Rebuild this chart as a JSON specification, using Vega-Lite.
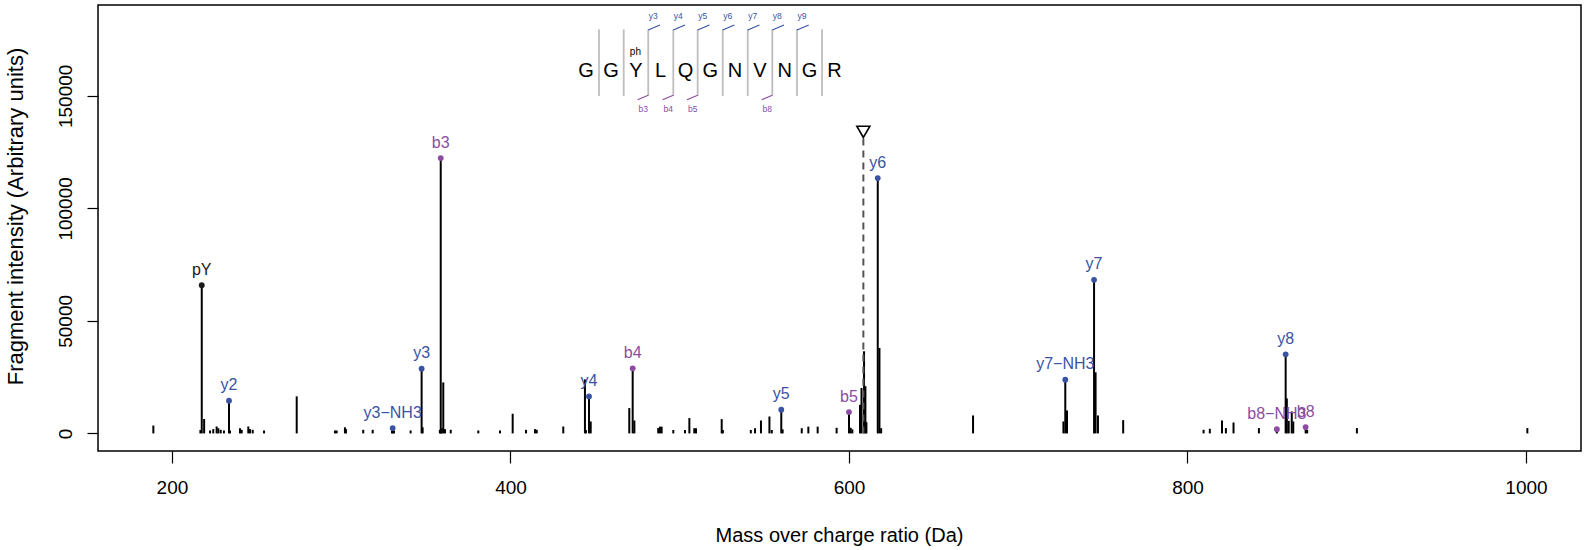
{
  "$schema": "https://vega.github.io/schema/vega-lite/v6.json",
  "width": 1483,
  "height": 446,
  "autosize": {"type": "none"},
  "padding": {"left": 98, "top": 5, "right": 15, "bottom": 99},
  "background": "white",
  "config": {
    "font": "Liberation Sans",
    "view": {"stroke": "black", "strokeWidth": 1.5},
    "axis": {
      "grid": false, "domain": false, "tickColor": "black", "tickWidth": 1.2,
      "labelColor": "black", "titleColor": "black", "labelFontSize": 19, "titleFontSize": 20,
      "titleFontWeight": "normal", "labelFont": "Liberation Sans", "titleFont": "Liberation Sans"
    }
  },
  "datasets": {
    "peaks": [
      {"mz": 189.0, "int": 3500, "ion": "", "kind": "n"},
      {"mz": 216.8, "int": 1500, "ion": "", "kind": "n"},
      {"mz": 217.6, "int": 65850, "ion": "pY", "kind": "p"},
      {"mz": 219.0, "int": 6400, "ion": "", "kind": "n"},
      {"mz": 222.5, "int": 1300, "ion": "", "kind": "n"},
      {"mz": 224.4, "int": 1900, "ion": "", "kind": "n"},
      {"mz": 226.4, "int": 3070, "ion": "", "kind": "n"},
      {"mz": 227.4, "int": 2300, "ion": "", "kind": "n"},
      {"mz": 228.8, "int": 1600, "ion": "", "kind": "n"},
      {"mz": 230.7, "int": 1300, "ion": "", "kind": "n"},
      {"mz": 233.7, "int": 14500, "ion": "y2", "kind": "y"},
      {"mz": 234.3, "int": 1300, "ion": "", "kind": "n"},
      {"mz": 240.2, "int": 2300, "ion": "", "kind": "n"},
      {"mz": 241.2, "int": 1600, "ion": "", "kind": "n"},
      {"mz": 245.1, "int": 3070, "ion": "", "kind": "n"},
      {"mz": 246.1, "int": 1900, "ion": "", "kind": "n"},
      {"mz": 247.7, "int": 1600, "ion": "", "kind": "n"},
      {"mz": 254.4, "int": 1300, "ion": "", "kind": "n"},
      {"mz": 273.7, "int": 16450, "ion": "", "kind": "n"},
      {"mz": 296.3, "int": 1300, "ion": "", "kind": "n"},
      {"mz": 297.3, "int": 1300, "ion": "", "kind": "n"},
      {"mz": 302.2, "int": 2700, "ion": "", "kind": "n"},
      {"mz": 302.8, "int": 1900, "ion": "", "kind": "n"},
      {"mz": 313.0, "int": 1600, "ion": "", "kind": "n"},
      {"mz": 318.6, "int": 1600, "ion": "", "kind": "n"},
      {"mz": 330.0, "int": 1300, "ion": "", "kind": "n"},
      {"mz": 330.4, "int": 2350, "ion": "y3−NH3", "kind": "y"},
      {"mz": 331.2, "int": 1300, "ion": "", "kind": "n"},
      {"mz": 341.0, "int": 1300, "ion": "", "kind": "n"},
      {"mz": 347.5, "int": 28760, "ion": "y3", "kind": "y"},
      {"mz": 348.1, "int": 2700, "ion": "", "kind": "n"},
      {"mz": 358.3, "int": 1600, "ion": "", "kind": "n"},
      {"mz": 358.8, "int": 122340, "ion": "b3", "kind": "b"},
      {"mz": 359.4, "int": 2300, "ion": "", "kind": "n"},
      {"mz": 360.3, "int": 22660, "ion": "", "kind": "n"},
      {"mz": 361.3, "int": 1900, "ion": "", "kind": "n"},
      {"mz": 364.7, "int": 1600, "ion": "", "kind": "n"},
      {"mz": 381.0, "int": 1300, "ion": "", "kind": "n"},
      {"mz": 393.8, "int": 1300, "ion": "", "kind": "n"},
      {"mz": 401.3, "int": 8730, "ion": "", "kind": "n"},
      {"mz": 409.2, "int": 1600, "ion": "", "kind": "n"},
      {"mz": 414.5, "int": 1900, "ion": "", "kind": "n"},
      {"mz": 415.5, "int": 1600, "ion": "", "kind": "n"},
      {"mz": 431.2, "int": 3070, "ion": "", "kind": "n"},
      {"mz": 444.0, "int": 24000, "ion": "", "kind": "n"},
      {"mz": 444.6, "int": 1500, "ion": "", "kind": "n"},
      {"mz": 446.4, "int": 16430, "ion": "y4", "kind": "y"},
      {"mz": 447.4, "int": 5300, "ion": "", "kind": "n"},
      {"mz": 470.2, "int": 11260, "ion": "", "kind": "n"},
      {"mz": 472.2, "int": 28900, "ion": "b4", "kind": "b"},
      {"mz": 473.2, "int": 5750, "ion": "", "kind": "n"},
      {"mz": 487.3, "int": 2360, "ion": "", "kind": "n"},
      {"mz": 488.3, "int": 3000, "ion": "", "kind": "n"},
      {"mz": 489.3, "int": 3000, "ion": "", "kind": "n"},
      {"mz": 496.2, "int": 1500, "ion": "", "kind": "n"},
      {"mz": 503.1, "int": 1500, "ion": "", "kind": "n"},
      {"mz": 505.7, "int": 6800, "ion": "", "kind": "n"},
      {"mz": 508.6, "int": 2300, "ion": "", "kind": "n"},
      {"mz": 509.6, "int": 2300, "ion": "", "kind": "n"},
      {"mz": 524.8, "int": 6360, "ion": "", "kind": "n"},
      {"mz": 525.5, "int": 1500, "ion": "", "kind": "n"},
      {"mz": 542.0, "int": 1500, "ion": "", "kind": "n"},
      {"mz": 544.5, "int": 2300, "ion": "", "kind": "n"},
      {"mz": 548.0, "int": 5740, "ion": "", "kind": "n"},
      {"mz": 553.0, "int": 7520, "ion": "", "kind": "n"},
      {"mz": 554.4, "int": 1500, "ion": "", "kind": "n"},
      {"mz": 560.0, "int": 10500, "ion": "y5", "kind": "y"},
      {"mz": 560.8, "int": 1800, "ion": "", "kind": "n"},
      {"mz": 572.1, "int": 2300, "ion": "", "kind": "n"},
      {"mz": 576.0, "int": 3000, "ion": "", "kind": "n"},
      {"mz": 581.5, "int": 3000, "ion": "", "kind": "n"},
      {"mz": 592.7, "int": 2500, "ion": "", "kind": "n"},
      {"mz": 600.0, "int": 9480, "ion": "b5", "kind": "b"},
      {"mz": 601.0, "int": 2500, "ion": "", "kind": "n"},
      {"mz": 602.0, "int": 1800, "ion": "", "kind": "n"},
      {"mz": 606.5, "int": 12700, "ion": "", "kind": "n"},
      {"mz": 607.4, "int": 20200, "ion": "", "kind": "n"},
      {"mz": 608.9, "int": 36500, "ion": "", "kind": "n"},
      {"mz": 609.7, "int": 21000, "ion": "", "kind": "n"},
      {"mz": 610.3, "int": 5000, "ion": "", "kind": "n"},
      {"mz": 617.0, "int": 113480, "ion": "y6", "kind": "y"},
      {"mz": 618.0, "int": 37980, "ion": "", "kind": "n"},
      {"mz": 619.0, "int": 2300, "ion": "", "kind": "n"},
      {"mz": 673.3, "int": 7970, "ion": "", "kind": "n"},
      {"mz": 726.7, "int": 5300, "ion": "", "kind": "n"},
      {"mz": 727.8, "int": 23860, "ion": "y7−NH3", "kind": "y"},
      {"mz": 728.8, "int": 10200, "ion": "", "kind": "n"},
      {"mz": 744.8, "int": 68250, "ion": "y7", "kind": "y"},
      {"mz": 745.7, "int": 27130, "ion": "", "kind": "n"},
      {"mz": 747.1, "int": 7970, "ion": "", "kind": "n"},
      {"mz": 762.0, "int": 5900, "ion": "", "kind": "n"},
      {"mz": 809.5, "int": 1600, "ion": "", "kind": "n"},
      {"mz": 813.2, "int": 2050, "ion": "", "kind": "n"},
      {"mz": 820.4, "int": 5750, "ion": "", "kind": "n"},
      {"mz": 822.7, "int": 2360, "ion": "", "kind": "n"},
      {"mz": 827.2, "int": 4850, "ion": "", "kind": "n"},
      {"mz": 842.2, "int": 2360, "ion": "", "kind": "n"},
      {"mz": 852.8, "int": 1900, "ion": "b8−NH3", "kind": "b"},
      {"mz": 858.0, "int": 35130, "ion": "y8", "kind": "y"},
      {"mz": 858.7, "int": 15540, "ion": "", "kind": "n"},
      {"mz": 859.8, "int": 5600, "ion": "", "kind": "n"},
      {"mz": 861.6, "int": 9750, "ion": "", "kind": "n"},
      {"mz": 862.5, "int": 5300, "ion": "", "kind": "n"},
      {"mz": 869.8, "int": 2800, "ion": "b8", "kind": "b"},
      {"mz": 870.7, "int": 1600, "ion": "", "kind": "n"},
      {"mz": 900.1, "int": 2360, "ion": "", "kind": "n"},
      {"mz": 1000.8, "int": 2360, "ion": "", "kind": "n"}
    ],
    "precursor": [{"mz": 608.5}],
    "seq": [
      {"mz": 444.7, "aa": "G"}, {"mz": 459.4, "aa": "G"}, {"mz": 474.1, "aa": "Y"},
      {"mz": 488.7, "aa": "L"}, {"mz": 503.4, "aa": "Q"}, {"mz": 518.1, "aa": "G"},
      {"mz": 532.7, "aa": "N"}, {"mz": 547.4, "aa": "V"}, {"mz": 562.1, "aa": "N"},
      {"mz": 576.7, "aa": "G"}, {"mz": 591.4, "aa": "R"}
    ],
    "mods": [{"mz": 473.8, "mod": "ph"}],
    "cuts": [
      {"mz": 452.3, "yl": "", "bl": ""},
      {"mz": 466.9, "yl": "", "bl": ""},
      {"mz": 481.4, "yl": "y3", "bl": "b3"},
      {"mz": 496.2, "yl": "y4", "bl": "b4"},
      {"mz": 510.6, "yl": "y5", "bl": "b5"},
      {"mz": 525.4, "yl": "y6", "bl": ""},
      {"mz": 540.2, "yl": "y7", "bl": ""},
      {"mz": 554.7, "yl": "y8", "bl": "b8"},
      {"mz": 569.3, "yl": "y9", "bl": ""},
      {"mz": 584.1, "yl": "", "bl": ""}
    ]
  },
  "encoding": {
    "x": {
      "field": "mz", "type": "quantitative",
      "scale": {"domain": [156.3, 1032.5], "nice": false, "zero": false},
      "axis": {
        "values": [200, 400, 600, 800, 1000], "format": "d", "tickSize": 12, "labelPadding": 15,
        "labelFlush": false, "labelOverlap": false,
        "title": "Mass over charge ratio (Da)", "titleX": 741, "titleY": 84,
        "titleBaseline": "middle", "titleAlign": "center"
      }
    }
  },
  "layer": [
    {
      "data": {"name": "peaks"},
      "mark": {"type": "rule", "color": "black", "strokeWidth": 2},
      "encoding": {
        "y": {
          "field": "int", "type": "quantitative",
          "scale": {"domain": [-7820, 190380], "nice": false, "zero": false},
          "axis": {
            "values": [0, 50000, 100000, 150000], "format": "d", "tickSize": 11,
            "labelAngle": -90, "labelAlign": "center", "labelBaseline": "middle", "labelPadding": 22,
            "title": "Fragment intensity (Arbitrary units)", "titleAngle": -90, "titleFontSize": 22,
            "titleX": -83, "titleY": 211, "titleBaseline": "middle", "titleAlign": "center"
          }
        },
        "y2": {"datum": 0}
      }
    },
    {
      "data": {"name": "precursor"},
      "mark": {"type": "rule", "color": "#555555", "strokeWidth": 2, "strokeDash": [7, 5]},
      "encoding": {
        "y": {"datum": 0, "type": "quantitative"},
        "y2": {"datum": 131600}
      }
    },
    {
      "data": {"name": "precursor"},
      "mark": {"type": "point", "shape": "triangle-down", "filled": true, "fill": "white", "stroke": "black", "strokeWidth": 1.6, "size": 170, "opacity": 1},
      "encoding": {
        "y": {"datum": 134000, "type": "quantitative"}
      }
    },
    {
      "data": {"name": "peaks"},
      "transform": [{"filter": "datum.ion != ''"}],
      "mark": {"type": "circle", "size": 34, "opacity": 1},
      "encoding": {
        "y": {"field": "int", "type": "quantitative"},
        "color": {"field": "kind", "type": "nominal", "scale": {"domain": ["y", "b", "p"], "range": ["#3953A4", "#8C4CA3", "#1a1a1a"]}, "legend": null}
      }
    },
    {
      "data": {"name": "peaks"},
      "transform": [{"filter": "datum.ion != ''"}],
      "mark": {"type": "text", "fontSize": 16, "dy": -15.5, "baseline": "middle", "align": "center"},
      "encoding": {
        "y": {"field": "int", "type": "quantitative"},
        "text": {"field": "ion"},
        "color": {"field": "kind", "type": "nominal", "scale": {"domain": ["y", "b", "p"], "range": ["#3953A4", "#8C4CA3", "#1a1a1a"]}, "legend": null}
      }
    },
    {
      "data": {"name": "cuts"},
      "mark": {"type": "rule", "color": "#BEBEBE", "strokeWidth": 1.8},
      "encoding": {
        "y": {"datum": 149940, "type": "quantitative"},
        "y2": {"datum": 179580}
      }
    },
    {
      "data": {"name": "cuts"},
      "transform": [{"filter": "datum.yl != ''"}],
      "mark": {"type": "rule", "color": "#3953A4", "strokeWidth": 1.2, "x2Offset": 11.7, "y2Offset": -5},
      "encoding": {
        "x2": {"field": "mz"},
        "y": {"datum": 179270, "type": "quantitative"},
        "y2": {"datum": 179270}
      }
    },
    {
      "data": {"name": "cuts"},
      "transform": [{"filter": "datum.bl != ''"}],
      "mark": {"type": "rule", "color": "#8C4CA3", "strokeWidth": 1.2, "x2Offset": -10.7, "y2Offset": 4.4},
      "encoding": {
        "x2": {"field": "mz"},
        "y": {"datum": 150250, "type": "quantitative"},
        "y2": {"datum": 150250}
      }
    },
    {
      "data": {"name": "cuts"},
      "transform": [{"filter": "datum.yl != ''"}],
      "mark": {"type": "text", "fontSize": 8.5, "dx": 5, "baseline": "middle", "align": "center", "color": "#3953A4"},
      "encoding": {
        "y": {"datum": 185630, "type": "quantitative"},
        "text": {"field": "yl"}
      }
    },
    {
      "data": {"name": "cuts"},
      "transform": [{"filter": "datum.bl != ''"}],
      "mark": {"type": "text", "fontSize": 8.5, "dx": -5, "baseline": "middle", "align": "center", "color": "#8C4CA3"},
      "encoding": {
        "y": {"datum": 144030, "type": "quantitative"},
        "text": {"field": "bl"}
      }
    },
    {
      "data": {"name": "seq"},
      "mark": {"type": "text", "fontSize": 20, "baseline": "alphabetic", "align": "center", "color": "black"},
      "encoding": {
        "y": {"datum": 158300, "type": "quantitative"},
        "text": {"field": "aa"}
      }
    },
    {
      "data": {"name": "mods"},
      "mark": {"type": "text", "fontSize": 10, "baseline": "middle", "align": "center", "color": "black"},
      "encoding": {
        "y": {"datum": 169630, "type": "quantitative"},
        "text": {"field": "mod"}
      }
    }
  ]
}
